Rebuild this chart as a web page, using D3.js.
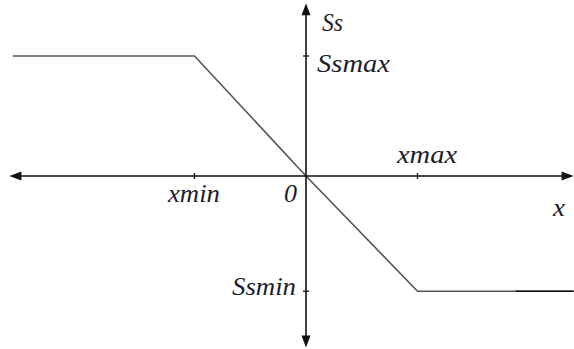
<!DOCTYPE html>
<html>
<head>
<script src="https://cdn.jsdelivr.net/npm/d3@7"></script>
</head>
<body style="margin:0">
<script>
// saturation curve Ss(x)
const curveX = [-2.63, -1, 0, 1, 2.4]
const curveY = [1, 1, 0, -0.96, -0.96]
const tailX = [1.88, 2.4]
const xTicks = [{ v: -1, label: 'xmin' }, { v: 1, label: 'xmax' }]
const yTicks = [{ v: 1, label: 'Ssmax' }, { v: -0.96, label: 'Ssmin' }]
const axisX = [-2.66, 2.4]
const axisY = [-1.43, 1.44]

const width = 574
const height = 349

const x = d3.scaleLinear()
	.domain([-1, 1])
	.range([194.5, 417.5])

const y = d3.scaleLinear()
	.domain([-1, 1])
	.range([296, 56])

const svg = d3.select('body')
	.append('svg')
	.attr('width', width)
	.attr('height', height)

const line = d3.line()
	.x(d => x(d[0]))
	.y(d => y(d[1]))

svg.append('path')
	.attr('d', line(curveX.map((d, i) => [d, curveY[i]])))
	.attr('fill', 'none')
	.attr('stroke', '#555')
	.attr('stroke-width', 1.6)

// darker piece at the right end
svg.append('path')
	.attr('d', line(tailX.map(d => [d, curveY[curveY.length - 1]])))
	.attr('fill', 'none')
	.attr('stroke', '#111')
	.attr('stroke-width', 1.6)

// axes
const x0 = x(0)
const y0 = y(0)

svg.append('line')
	.attr('x1', x(axisX[0]) + 8).attr('x2', x(axisX[1]) - 8)
	.attr('y1', y0).attr('y2', y0)
	.attr('stroke', '#111').attr('stroke-width', 1.6)

svg.append('line')
	.attr('x1', x0).attr('x2', x0)
	.attr('y1', y(axisY[1]) + 8).attr('y2', y(axisY[0]) - 8)
	.attr('stroke', '#111').attr('stroke-width', 1.6)

const arrows = [
	[x(axisX[0]), y0, 12, 0],
	[x(axisX[1]), y0, -12, 0],
	[x0, y(axisY[1]), 0, 12],
	[x0, y(axisY[0]), 0, -12]
]

svg.selectAll('path.arrow')
	.data(arrows)
	.enter()
	.append('path')
	.attr('class', 'arrow')
	.attr('fill', '#111')
	.attr('d', d => {
		const [tx, ty, dx, dy] = d
		const bx = tx + dx, by = ty + dy
		const px = dy === 0 ? 0 : 4.5, py = dx === 0 ? 0 : 4.5
		return `M${tx},${ty}L${bx + px},${by + py}L${bx - px},${by - py}Z`
	})

// ticks
svg.selectAll('line.xt')
	.data(xTicks)
	.enter()
	.append('line')
	.attr('x1', d => x(d.v)).attr('x2', d => x(d.v))
	.attr('y1', y0 - 3).attr('y2', y0 + 3)
	.attr('stroke', '#111').attr('stroke-width', 1.3)

svg.selectAll('line.yt')
	.data(yTicks)
	.enter()
	.append('line')
	.attr('y1', d => y(d.v)).attr('y2', d => y(d.v))
	.attr('x1', x0 - 3).attr('x2', x0 + 3)
	.attr('stroke', '#111').attr('stroke-width', 1.3)

// labels
const label = (tx, ty, len, s) => svg.append('text')
	.attr('x', tx).attr('y', ty)
	.attr('textLength', len).attr('lengthAdjust', 'spacingAndGlyphs')
	.style('font-family', '"Liberation Serif"')
	.style('font-style', 'italic')
	.style('font-size', '26px')
	.style('fill', '#1d1d2b')
	.text(s)

label(168, 202, 52, xTicks[0].label)
label(397, 163, 60, xTicks[1].label)
label(317, 72, 73, yTicks[0].label)
label(232, 295, 64, yTicks[1].label)
label(322, 31, 21, 'Ss')
label(284, 202, 13, '0')
label(553, 216, 12, 'x')
</script>
</body>
</html>
